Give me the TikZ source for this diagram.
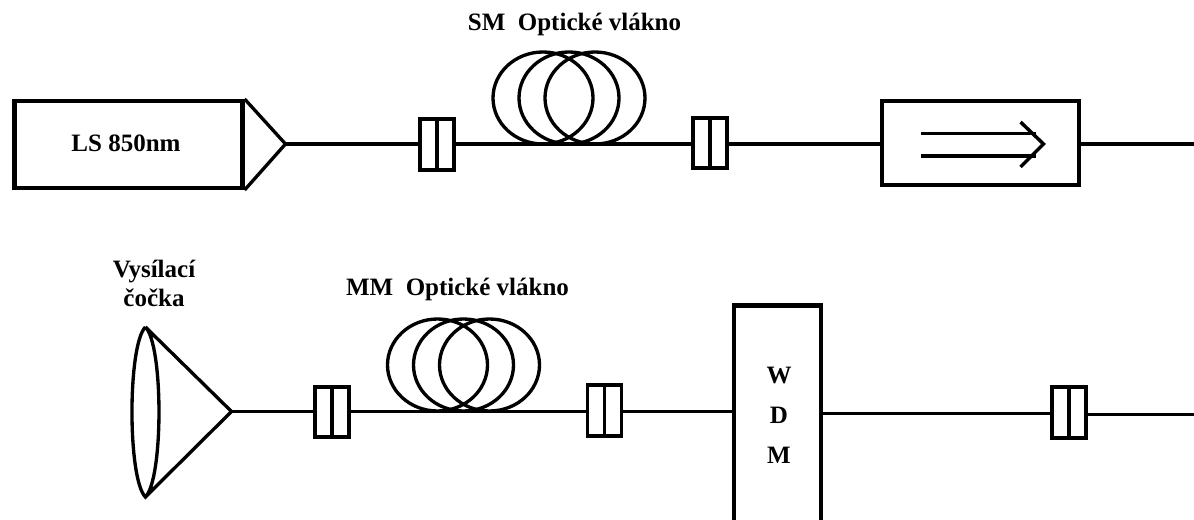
\documentclass[tikz,border=0pt]{standalone}
\usepackage{fontspec}
\setmainfont{Liberation Serif}
\usetikzlibrary{shapes.geometric}
\tikzset{
  fibre/.style={line width=2.9pt},
  box/.style={draw,fill=white,line width=3.2pt,inner sep=0},
  conn/.style={draw,fill=white,line width=2.8pt,inner sep=0,minimum width=25.5pt,minimum height=38pt},
  loopring/.style={draw,ellipse,line width=2.5pt,inner sep=0,minimum width=75pt,minimum height=69pt},
  lbl/.style={anchor=base,font=\fontsize{18.75}{20}\selectfont\bfseries,inner sep=0},
}
\begin{document}
\begin{tikzpicture}[x=0.75pt,y=-0.75pt]
  \useasboundingbox (0,0) rectangle (1194,520);
  \def\conn#1#2#3{
    \node[conn] (#1) at (#2,#3) {};
    \draw[fibre] (#1.north) -- (#1.south);}
  \def\coil#1#2#3{
    \node[loopring] (#1a) at (#2-26,#3) {};
    \node[loopring] (#1b) at (#2,#3) {};
    \node[loopring] (#1c) at (#2+26,#3) {};}
  % upper branch
  \node[box,minimum width=171pt,minimum height=65pt] (ls) at (128.5,144.5) {};
  \node[lbl] (lslbl) at (126,152) {LS 850nm};
  \coordinate (lstip) at (285.5,144);
  \draw[line width=2.5pt,line join=miter] (ls.north east) -- (lstip) -- (ls.south east);
  \node[box,line width=2.8pt,minimum width=148pt,minimum height=63pt] (iso) at (980.5,143) {};
  \coordinate (smout) at (1194,144);
  \coil{sm}{569}{98}
  \conn{smin}{437}{144.5}
  \conn{smend}{710}{143}
  \draw[fibre] (lstip) -- (smin.west |- lstip);
  \draw[fibre] (smin.east |- lstip) -- (smend.west |- lstip);
  \draw[fibre] (smend.east |- lstip) -- (iso.west |- lstip);
  \draw[fibre] (iso.east |- lstip) -- (smout);
  \draw[line width=2.9pt] ([shift={(-60,-9.5)}]iso.center) -- ([shift={(55,-9.5)}]iso.center);
  \draw[line width=2.9pt] ([shift={(-60,13)}]iso.center) -- ([shift={(55,13)}]iso.center);
  \draw[line width=2.6pt] ([shift={(40,-21)}]iso.center) -- ([shift={(63,1)}]iso.center) -- ([shift={(40,24)}]iso.center);
  \node[lbl] (smlbl) at (574.5,31) {SM\ \ Optické vlákno};
  % lower branch
  \coordinate (lenstop) at (145.4,327);
  \coordinate (lensbot) at (145.4,497);
  \coordinate (lenstip) at (231.5,411.5);
  \draw[line width=2.5pt] (lenstop) .. controls (127.5,345) and (127.5,479) .. (lensbot) .. controls (163.5,479) and (163.5,345) .. (lenstop) -- (lenstip) -- (lensbot);
  \node[minimum width=64.5pt,minimum height=161pt,inner sep=0] (wdm) at (777.5,413) {};
  \draw[line width=3.2pt] (wdm.south west) |- (wdm.north east) -- (wdm.south east);
  \coordinate (mmout) at (1194,414.5);
  \coil{mm}{463.5}{365}
  \conn{mmin}{332}{412}
  \conn{mmend}{604.5}{410.5}
  \conn{wdmend}{1069}{412.5}
  \draw[fibre] (lenstip) -- (mmin.west |- lenstip);
  \draw[fibre] (mmin.east |- lenstip) -- (mmend.west |- lenstip);
  \draw[fibre] (mmend.east |- lenstip) -- (wdm.west |- lenstip);
  \draw[fibre] (wdm.east |- 0,413.5) -- (wdmend.west |- 0,413.5);
  \draw[fibre] (wdmend.east |- mmout) -- (mmout);
  \node[lbl] (lenslbla) at (154,277) {Vysílací};
  \node[lbl] (lenslblb) at (154,306) {čočka};
  \node[lbl] (mmlbl) at (457.5,295) {MM\ \ Optické vlákno};
  \node[lbl] (wdmw) at (779,383) {W};
  \node[lbl] (wdmd) at (779,423) {D};
  \node[lbl] (wdmm) at (779,463) {M};
\end{tikzpicture}
\end{document}
